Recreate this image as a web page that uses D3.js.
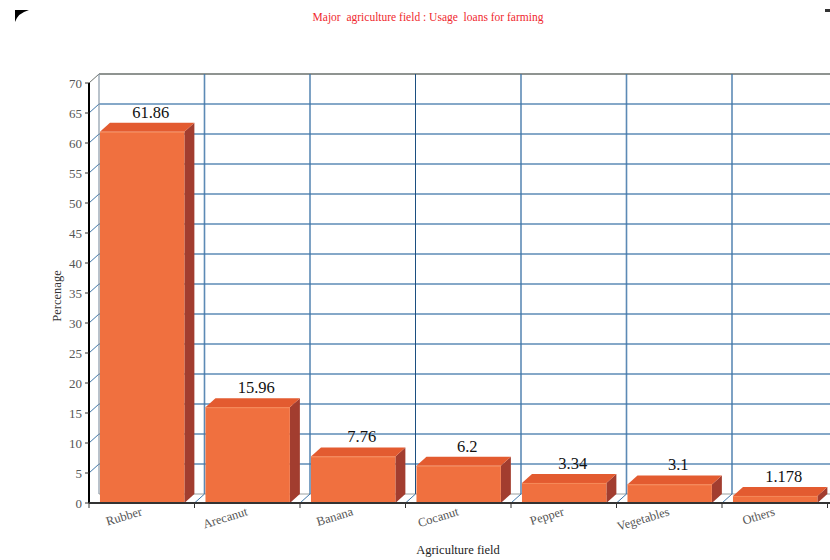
<!DOCTYPE html>
<html>
<head>
<meta charset="utf-8">
<script src="https://cdn.jsdelivr.net/npm/d3@7"></script>
<style>
  body { margin: 0; background: #fff; }
  svg { display: block; font-family: "Liberation Serif", "DejaVu Serif", serif; }
</style>
</head>
<body>
<svg id="chart" width="830" height="560"></svg>
<script>
const categories = ['Rubber', 'Arecanut', 'Banana', 'Cocanut', 'Pepper', 'Vegetables', 'Others']
const values = [61.86, 15.96, 7.76, 6.2, 3.34, 3.1, 1.178]
const valueLabels = ['61.86', '15.96', '7.76', '6.2', '3.34', '3.1', '1.178']
const yTicks = [0, 5, 10, 15, 20, 25, 30, 35, 40, 45, 50, 55, 60, 65, 70]

const svg = d3.select('#chart')

// depth of the fake 3d
const dx = 10, dy = -9

const x = d3.scaleBand()
    .domain(categories)
    .range([89, 827.5])
    .padding(0)

const y = d3.scaleLinear()
    .domain([0, 70])
    .range([503, 83])

const left = 89, right = 827.5

// corner marks
svg.append('path')
    .attr('d', 'M15,10 L29,10 Q18,13 15,22 Z')
    .attr('fill', '#000')
svg.append('rect')
    .attr('x', 825).attr('y', 9).attr('width', 5).attr('height', 3)
    .attr('fill', '#333')

// title
svg.append('text')
    .text('Major  agriculture field : Usage  loans for farming')
    .attr('x', 428)
    .attr('y', 21)
    .attr('text-anchor', 'middle')
    .attr('font-size', 11.5)
    .attr('fill', '#f0282e')
    .style('white-space', 'pre')

// floor
svg.append('path')
    .attr('d', `M${left},${y(0)} L${right + 5},${y(0)} L${right + 5 + dx},${y(0) + dy} L${left + dx},${y(0) + dy} Z`)
    .attr('fill', '#fff')

// back wall horizontal grid
yTicks.filter(d => d > 0 && d < 70).forEach(d => {
    svg.append('line')
        .attr('x1', left + dx).attr('x2', 840)
        .attr('y1', y(d) + dy).attr('y2', y(d) + dy)
        .attr('stroke', '#3f76a8')
        .attr('stroke-opacity', 0.85)
        .attr('stroke-width', 1.6)
    // left wall diagonals
    svg.append('line')
        .attr('x1', left).attr('y1', y(d))
        .attr('x2', left + dx).attr('y2', y(d) + dy)
        .attr('stroke', '#3f76a8')
        .attr('stroke-width', 1)
})

// top border and floor back edge
svg.append('line')
    .attr('x1', left + dx).attr('x2', 840)
    .attr('y1', y(70) + dy).attr('y2', y(70) + dy)
    .attr('stroke', '#6a706c').attr('stroke-width', 1.6)
svg.append('line')
    .attr('x1', left).attr('y1', y(70))
    .attr('x2', left + dx).attr('y2', y(70) + dy)
    .attr('stroke', '#6a706c').attr('stroke-width', 1)
svg.append('line')
    .attr('x1', left + dx).attr('x2', 840)
    .attr('y1', y(0) + dy).attr('y2', y(0) + dy)
    .attr('stroke', '#9aa0a0').attr('stroke-width', 1)

// back wall verticals
svg.append('line')
    .attr('x1', left + dx).attr('x2', left + dx)
    .attr('y1', y(70) + dy).attr('y2', y(0) + dy)
    .attr('stroke', '#8a9aa8').attr('stroke-width', 1.2)

categories.slice(1).forEach((c, i) => {
    const bx = x(c) + dx
    const dark = i === 2
    svg.append('line')
        .attr('x1', bx).attr('x2', bx)
        .attr('y1', y(70) + dy).attr('y2', y(0) + dy)
        .attr('stroke', dark ? '#1c4f80' : '#3f76a8')
        .attr('stroke-opacity', dark ? 1 : 0.85)
        .attr('stroke-width', dark ? 1 : 1.6)
    // floor diagonal
    svg.append('line')
        .attr('x1', x(c)).attr('y1', y(0))
        .attr('x2', bx).attr('y2', y(0) + dy)
        .attr('stroke', '#3f76a8').attr('stroke-width', 1)
})

// bars
const bw = x.bandwidth() * 0.8
const bars = svg.selectAll('g.bar')
    .data(categories)
    .join('g')
    .attr('class', 'bar')

bars.each(function(c, i) {
    const g = d3.select(this)
    const x0 = x(c) + x.bandwidth() * 0.104
    const x1 = x0 + bw
    const yt = y(values[i])
    const yb = y(0)
    // side
    g.append('path')
        .attr('d', `M${x1},${yb} L${x1},${yt} L${x1 + dx},${yt + dy} L${x1 + dx},${yb + dy} Z`)
        .attr('fill', '#a23d2f')
    // top
    g.append('path')
        .attr('d', `M${x0},${yt} L${x0 + dx},${yt + dy} L${x1 + dx},${yt + dy} L${x1},${yt} Z`)
        .attr('fill', '#e35b30')
    // front
    g.append('rect')
        .attr('x', x0).attr('y', yt)
        .attr('width', bw).attr('height', yb - yt)
        .attr('fill', '#f0703f')
    g.append('line')
        .attr('x1', x0).attr('x2', x1)
        .attr('y1', yt + 0.5).attr('y2', yt + 0.5)
        .attr('stroke', '#f58a5a').attr('stroke-width', 1)

    g.append('text')
        .text(valueLabels[i])
        .attr('x', x(c) + x.bandwidth() / 2 + 9)
        .attr('y', yt - 14)
        .attr('text-anchor', 'middle')
        .attr('font-size', 16.5)
        .attr('fill', '#111')
})

// y axis
svg.append('line')
    .attr('x1', left).attr('x2', left)
    .attr('y1', y(70)).attr('y2', y(0))
    .attr('stroke', '#000').attr('stroke-width', 2)

yTicks.forEach(d => {
    svg.append('line')
        .attr('x1', left - 4).attr('x2', left)
        .attr('y1', y(d)).attr('y2', y(d))
        .attr('stroke', '#333')
    svg.append('text')
        .text(d)
        .attr('x', left - 7)
        .attr('y', y(d) + 4.5)
        .attr('text-anchor', 'end')
        .attr('font-size', 13)
        .attr('fill', '#555')
})

// x axis
svg.append('line')
    .attr('x1', left).attr('x2', 830)
    .attr('y1', y(0)).attr('y2', y(0))
    .attr('stroke', '#333').attr('stroke-width', 2)

categories.concat(['end']).forEach((c, i) => {
    const tx = i < categories.length ? x(c) : right
    svg.append('line')
        .attr('x1', tx).attr('x2', tx)
        .attr('y1', y(0)).attr('y2', y(0) + 5)
        .attr('stroke', '#333')
})

categories.forEach(c => {
    const cx = x(c) + x.bandwidth() / 2
    svg.append('text')
        .text(c)
        .attr('transform', `translate(${cx + 1},${y(0) + 12}) rotate(-17)`)
        .attr('text-anchor', 'end')
        .attr('font-size', 12.5)
        .attr('fill', '#555')
})

// axis titles
svg.append('text')
    .text('Percenage')
    .attr('transform', `translate(61,296) rotate(-90)`)
    .attr('text-anchor', 'middle')
    .attr('font-size', 12.5)
    .attr('fill', '#333')

svg.append('text')
    .text('Agriculture field')
    .attr('x', 458)
    .attr('y', 554)
    .attr('text-anchor', 'middle')
    .attr('font-size', 12.5)
    .attr('fill', '#222')
</script>
</body>
</html>
